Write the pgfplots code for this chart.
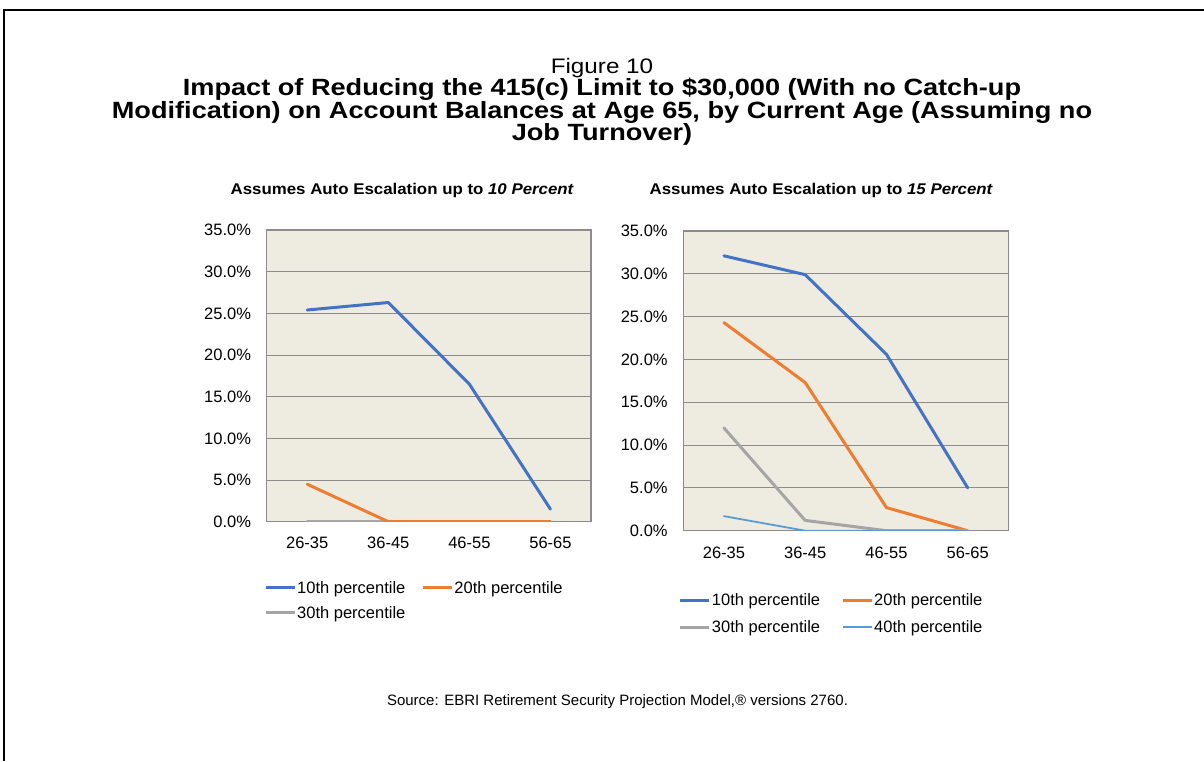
\documentclass[border=0pt]{standalone}
\usepackage{fontspec}
\setmainfont{Liberation Sans}
\usepackage{pgfplots}
\pgfplotsset{compat=1.18}
\definecolor{cten}{HTML}{4472C4}
\definecolor{ctwenty}{HTML}{ED7D31}
\definecolor{cthirty}{HTML}{A5A5A5}
\definecolor{cforty}{HTML}{5B9BD5}
\definecolor{bgc}{HTML}{EEEBE0}
\definecolor{gridc}{HTML}{8C8C8C}
\definecolor{axisc}{HTML}{8C8C8C}
\pgfplotsset{
  mystyle/.style={
    scale only axis,
    xmin=-0.5, xmax=3.5, ymin=0, ymax=35,
    xtick={0,1,2,3},
    xticklabels={26-35,36-45,46-55,56-65},
    ytick={0,5,10,15,20,25,30,35},
    major tick length=0pt,
    ymajorgrids,
    grid style={color=gridc, line width=0.9pt},
    axis line style={color=axisc, line width=1.2pt},
    axis background/.style={fill=bgc},
    tick label style={font=\fontsize{16.5}{18}\selectfont},
    /pgf/number format/assume math mode=true,
    yticklabel={\pgfmathprintnumber[fixed,fixed zerofill,precision=1]{\tick}\%},
    yticklabel style={inner sep=0pt, anchor=east, xshift=-15.5pt},
    xticklabel style={inner sep=0pt, anchor=north},
    legend columns=2,
    legend cell align=left,
    legend image code/.code={\draw[##1, line cap=butt] (0pt,0pt) -- (29pt,0pt);},
    every axis plot/.append style={line join=round, line cap=round, mark=none},
  }
}
\begin{document}
\begin{tikzpicture}
\path[use as bounding box] (0pt,0pt) rectangle (1204pt,761pt);
\draw[line width=2pt, black] (4pt,0pt) -- (4pt,751pt) -- (1204pt,751pt);
\node[anchor=base, font=\fontsize{21}{23}\selectfont] at (602pt,687.5pt) {\scalebox{1.155}[1]{Figure 10}};
\node[anchor=base, font=\bfseries\fontsize{23.5}{25}\selectfont] at (602pt,665pt) {\scalebox{1.155}[1]{Impact of Reducing the 415(c) Limit to \$30,000 (With no Catch-up}};
\node[anchor=base, font=\bfseries\fontsize{23.5}{25}\selectfont] at (602pt,642.5pt) {\scalebox{1.155}[1]{Modification) on Account Balances at Age 65, by Current Age (Assuming no}};
\node[anchor=base, font=\bfseries\fontsize{23.5}{25}\selectfont] at (602pt,620.5pt) {\scalebox{1.155}[1]{Job Turnover)}};
\node[anchor=base, font=\bfseries\fontsize{15.5}{17}\selectfont] at (402.3pt,566pt) {\scalebox{1.087}[1]{Assumes Auto Escalation up to \textit{10 Percent}}};
\node[anchor=base, font=\bfseries\fontsize{15.5}{17}\selectfont] at (821.3pt,566pt) {\scalebox{1.087}[1]{Assumes Auto Escalation up to \textit{15 Percent}}};
\node[anchor=base, font=\fontsize{15}{17}\selectfont] at (617.5pt,55.6pt) {Source: EBRI Retirement Security Projection Model,® versions 2760.};

\begin{axis}[mystyle,
  at={(266.7pt,239.3pt)}, anchor=south west,
  width=324.3pt, height=291.7pt,
  xticklabel style={yshift=-15.4pt},
  legend style={draw=none, fill=none, at={(-0.0083,-0.200)}, anchor=north west, inner sep=0pt,
    font=\fontsize{16.5}{18}\selectfont, nodes={inner sep=1pt}, row sep=9.4pt,
    /tikz/every even column/.append style={column sep=15pt}},
]
\addplot[cthirty, line width=3pt, forget plot] coordinates {(0,0) (1,0) (2,0) (3,0)};
\addplot[ctwenty, line width=3pt, forget plot] coordinates {(0,4.5) (1,0) (2,0) (3,0)};
\addplot[cten, line width=3pt, forget plot] coordinates {(0,25.4) (1,26.3) (2,16.5) (3,1.5)};
\addlegendimage{cten, line width=3pt}
\addlegendentry{10th percentile}
\addlegendimage{ctwenty, line width=3pt}
\addlegendentry{20th percentile}
\addlegendimage{cthirty, line width=3pt}
\addlegendentry{30th percentile}
\end{axis}

\begin{axis}[mystyle,
  at={(683.3pt,230.3pt)}, anchor=south west,
  width=325pt, height=299.7pt,
  xticklabel style={yshift=-16.4pt},
  legend style={draw=none, fill=none, at={(-0.014,-0.207)}, anchor=north west, inner sep=0pt,
    font=\fontsize{16.5}{18}\selectfont, nodes={inner sep=1pt}, row sep=11pt,
    /tikz/every even column/.append style={column sep=20pt}},
]
\addplot[cten, line width=3pt, forget plot] coordinates {(0,32.1) (1,29.9) (2,20.6) (3,5.0)};
\addplot[ctwenty, line width=3pt, forget plot] coordinates {(0,24.3) (1,17.3) (2,2.7) (3,0)};
\addplot[cthirty, line width=3pt, forget plot] coordinates {(0,12.0) (1,1.2) (2,0) (3,0)};
\addplot[cforty, line width=1.8pt, forget plot] coordinates {(0,1.7) (1,0) (2,0) (3,0)};
\addlegendimage{cten, line width=3pt}
\addlegendentry{10th percentile}
\addlegendimage{ctwenty, line width=3pt}
\addlegendentry{20th percentile}
\addlegendimage{cthirty, line width=3pt}
\addlegendentry{30th percentile}
\addlegendimage{cforty, line width=1.8pt}
\addlegendentry{40th percentile}
\end{axis}
\end{tikzpicture}
\end{document}
